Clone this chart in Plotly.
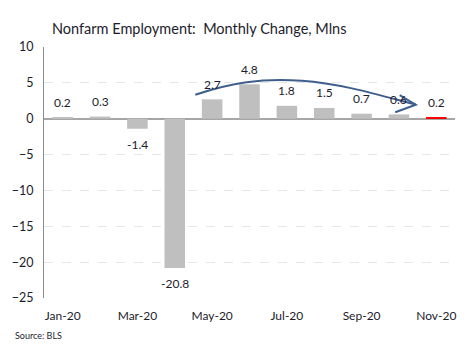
import plotly.graph_objects as go

months = ["Jan-20", "Feb-20", "Mar-20", "Apr-20", "May-20", "Jun-20",
          "Jul-20", "Aug-20", "Sep-20", "Oct-20", "Nov-20"]
changes = [0.2, 0.3, -1.4, -20.8, 2.7, 4.8, 1.8, 1.5, 0.7, 0.6, 0.2]
tick_every = 2

FONT = "Lato"
TXT = "#1c1c2c"
xs = list(range(len(months)))
colors = ["#BFBFBF"] * (len(months) - 1) + ["#FF0000"]

fig = go.Figure()
fig.add_trace(go.Bar(x=xs, y=changes, marker_color=colors, marker_line_width=0,
                     width=0.55, hoverinfo="skip"))

for x, v in zip(xs, changes):
    fig.add_annotation(x=x, y=v, text=f"{v:.1f}", showarrow=False,
                       yshift=15 if v >= 0 else -16,
                       font=dict(family=FONT, size=12, color=TXT))

# trend arrow (curved)
arrow_col = "#3E5F8C"
fig.add_shape(type="path", xref="x", yref="y",
              path="M 3.55,3.35 C 4.5,5.0 5.3,5.7 6.4,5.3 C 7.5,4.9 8.6,3.1 9.45,1.95",
              line=dict(color=arrow_col, width=2))
fig.add_shape(type="path", xref="x", yref="y",
              path="M 9.02,3.3 L 9.45,1.95 L 8.9,0.9",
              line=dict(color=arrow_col, width=2))

fig.add_annotation(x=0, y=1.0, xref="paper", yref="paper", xanchor="left", yanchor="bottom",
                   xshift=6, yshift=8, text="Nonfarm Employment:  Monthly Change, Mlns",
                   showarrow=False, font=dict(family=FONT, size=14.5, color=TXT))
fig.add_annotation(x=0, y=0, xref="paper", yref="paper", xanchor="left", yanchor="middle",
                   xshift=-31, yshift=-37, text="Source: BLS", showarrow=False,
                   font=dict(family=FONT, size=9, color=TXT))

fig.update_layout(
    width=472, height=347,
    margin=dict(l=41, r=17, t=47, b=49),
    paper_bgcolor="white", plot_bgcolor="white",
    showlegend=False, bargap=0.45,
    xaxis=dict(range=[-0.5, len(months) - 0.5],
               tickvals=xs[::tick_every], ticktext=months[::tick_every],
               showgrid=False, showline=False, zeroline=False, ticks="",
               ticklabelstandoff=9,
               tickfont=dict(family=FONT, size=12, color=TXT)),
    yaxis=dict(range=[-25, 10], dtick=5, showgrid=True, gridcolor="#E6E6E6",
               griddash="dash", gridwidth=1, zeroline=True, zerolinecolor="#A6A6A6",
               zerolinewidth=1.5, showline=True, linecolor="#8C8C8C", linewidth=1,
               ticks="", ticklabelstandoff=7,
               tickfont=dict(family=FONT, size=12.5, color=TXT)),
)

fig.write_html("out.html")
